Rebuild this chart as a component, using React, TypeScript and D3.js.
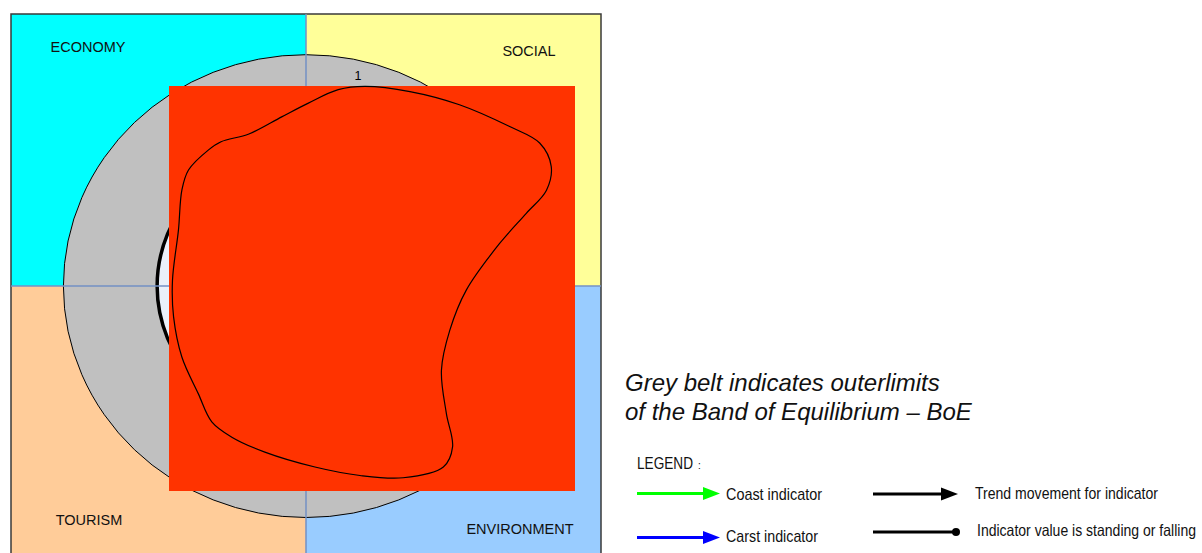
import React, { useEffect, useRef } from 'react';
import * as d3 from 'd3';

// quadrants, clockwise from top-left
const sectors = ['ECONOMY', 'SOCIAL', 'ENVIRONMENT', 'TOURISM'];
const sectorColors = ['#00FFFF', '#FFFF99', '#99CCFF', '#FFCC99'];

// band of equilibrium, in radial units
const beltOuter = 1.1;
const beltInner = 0.675;
const radialTicks = [1];

// indicator profile: angle (deg, clockwise from north) and radial value
const profileAngles = [
  -29.3, -19.7, -7.8, 0.7, 8.9, 15.7, 27.0, 38.9, 50.6, 57.3, 62.9, 67.3,
  70.9, 77.0, 91.5, 107.8, 123.1, 133.6, 139.0, 144.1, 154.2, 164.8, 177.3,
  193.3, 205.1, 213.5, 223.7, 239.1, 256.3, 272.7, 294.8, 309.1, 316.0, 325.7,
];
const profileValues = [
  0.787, 0.768, 0.812, 0.87, 0.945, 0.986, 1.038, 1.108, 1.195, 1.259, 1.249,
  1.182, 1.057, 0.901, 0.727, 0.685, 0.733, 0.879, 1.013, 1.062, 1.012, 0.933,
  0.861, 0.811, 0.793, 0.774, 0.707, 0.656, 0.618, 0.606, 0.637, 0.725, 0.767,
  0.784,
];

const noteLines = [
  'Grey belt indicates outerlimits',
  'of the Band of Equilibrium \u2013 BoE',
];

const legendItems = [
  { label: 'Coast indicator', color: '#00FF00', end: 'arrow' },
  { label: 'Trend movement for indicator', color: '#000000', end: 'arrow' },
  { label: 'Carst indicator', color: '#0000FF', end: 'arrow' },
  { label: 'Indicator value is standing or falling', color: '#000000', end: 'dot' },
];

const sans = '"Liberation Sans", Arial, sans-serif';
const narrow = '"Liberation Sans Narrow", "Arial Narrow", "Liberation Sans", sans-serif';

export default function App() {
  const ref = useRef<SVGSVGElement>(null);

  useEffect(() => {
    const width = 1202;
    const height = 553;
    const svg = d3.select(ref.current);
    svg.selectAll('*').remove();
    svg.attr('width', width).attr('height', height);

    // frame of the diagram
    const frame = { left: 11, top: 14, right: 601, bottom: 600 };

    const x = d3.scaleLinear().domain([-beltOuter, beltOuter]).range([63.4, 548.6]);
    const y = d3.scaleLinear().domain([-beltOuter, beltOuter]).range([517.5, 54.7]);
    const cx = x(0);
    const cy = y(0);

    // quadrant backgrounds
    const quads = [
      [frame.left, frame.top, cx, cy],
      [cx, frame.top, frame.right, cy],
      [cx, cy, frame.right, frame.bottom],
      [frame.left, cy, cx, frame.bottom],
    ];
    svg.append('g')
      .selectAll('rect')
      .data(quads)
      .enter()
      .append('rect')
      .attr('x', d => d[0])
      .attr('y', d => d[1])
      .attr('width', d => d[2] - d[0])
      .attr('height', d => d[3] - d[1])
      .attr('fill', (d, i) => sectorColors[i]);

    svg.append('rect')
      .attr('x', frame.left)
      .attr('y', frame.top)
      .attr('width', frame.right - frame.left)
      .attr('height', frame.bottom - frame.top)
      .attr('fill', 'none')
      .attr('stroke', '#3a3a3a')
      .attr('stroke-width', 1.5);

    // grey belt and inner limit
    svg.append('ellipse')
      .attr('cx', cx).attr('cy', cy)
      .attr('rx', x(beltOuter) - cx)
      .attr('ry', cy - y(beltOuter))
      .attr('fill', '#C0C0C0')
      .attr('stroke', '#000')
      .attr('stroke-width', 1);

    svg.append('ellipse')
      .attr('cx', cx).attr('cy', cy)
      .attr('rx', x(beltInner) - cx)
      .attr('ry', cy - y(beltInner))
      .attr('fill', '#EAF0FA')
      .attr('stroke', '#000')
      .attr('stroke-width', 3.5);

    // axes / quadrant dividers
    svg.append('line')
      .attr('x1', cx).attr('x2', cx)
      .attr('y1', frame.top).attr('y2', frame.bottom)
      .attr('stroke', '#7391C4').attr('stroke-width', 1.5);
    svg.append('line')
      .attr('x1', frame.left).attr('x2', frame.right)
      .attr('y1', cy).attr('y2', cy)
      .attr('stroke', '#7391C4').attr('stroke-width', 1.5);

    svg.selectAll('text.tick')
      .data(radialTicks)
      .enter()
      .append('text')
      .attr('class', 'tick')
      .attr('x', cx + 52)
      .attr('y', d => y(d) + 4.5)
      .attr('text-anchor', 'middle')
      .attr('font-family', sans)
      .attr('font-size', 12.5)
      .text(d => d);

    // sector labels
    const labelPos = [
      [88, 52], [529, 56], [520, 534], [89, 525],
    ];
    svg.selectAll('text.sector')
      .data(sectors)
      .enter()
      .append('text')
      .attr('class', 'sector')
      .attr('x', (d, i) => labelPos[i][0])
      .attr('y', (d, i) => labelPos[i][1])
      .attr('text-anchor', 'middle')
      .attr('font-family', sans)
      .attr('font-size', 14.5)
      .attr('fill', '#111')
      .text(d => d);

    // plot area
    svg.append('rect')
      .attr('x', 169).attr('y', 86)
      .attr('width', 406).attr('height', 405)
      .attr('fill', '#FF3300');

    const pts = profileAngles.map((a, i) => [a * Math.PI / 180, profileValues[i]] as [number, number]);
    const line = d3.line<[number, number]>()
      .x(d => x(d[1] * Math.sin(d[0])))
      .y(d => y(d[1] * Math.cos(d[0])))
      .curve(d3.curveCatmullRomClosed.alpha(0.5));
    svg.append('path')
      .attr('d', line(pts))
      .attr('fill', 'none')
      .attr('stroke', '#000')
      .attr('stroke-width', 1.2);

    // note
    svg.selectAll('text.note')
      .data(noteLines)
      .enter()
      .append('text')
      .attr('class', 'note')
      .attr('x', 625)
      .attr('y', (d, i) => 391 + i * 29)
      .attr('font-family', sans)
      .attr('font-style', 'italic')
      .attr('font-size', 24)
      .attr('fill', '#111')
      .text(d => d);

    // legend
    const lg = svg.append('g');
    lg.append('text')
      .attr('x', 637).attr('y', 469)
      .attr('font-family', narrow)
      .attr('font-size', 16.5)
      .attr('fill', '#111')
      .attr('textLength', 56)
      .attr('lengthAdjust', 'spacingAndGlyphs')
      .text('LEGEND');
    lg.append('text')
      .attr('x', 698).attr('y', 469)
      .attr('font-family', narrow)
      .attr('font-size', 10)
      .attr('fill', '#111')
      .text(':');

    const slots = [
      { x0: 637, x1: 720, y: 493.5, tx: 726, ty: 500, tl: 96 },
      { x0: 873, x1: 958, y: 494, tx: 975, ty: 498.5, tl: 183 },
      { x0: 637, x1: 720, y: 537.5, tx: 726, ty: 542, tl: 92 },
      { x0: 873, x1: 960, y: 532, tx: 977, ty: 536, tl: 219 },
    ];
    legendItems.forEach((item, i) => {
      const s = slots[i];
      const g = lg.append('g');
      if (item.end === 'arrow') {
        g.append('line')
          .attr('x1', s.x0).attr('x2', s.x1 - 14)
          .attr('y1', s.y).attr('y2', s.y)
          .attr('stroke', item.color).attr('stroke-width', 3);
        g.append('path')
          .attr('d', `M${s.x1},${s.y}L${s.x1 - 17},${s.y - 6.5}L${s.x1 - 17},${s.y + 6.5}Z`)
          .attr('fill', item.color);
      } else {
        g.append('line')
          .attr('x1', s.x0).attr('x2', s.x1 - 4)
          .attr('y1', s.y).attr('y2', s.y)
          .attr('stroke', item.color).attr('stroke-width', 3);
        g.append('circle')
          .attr('cx', s.x1 - 4).attr('cy', s.y).attr('r', 4)
          .attr('fill', item.color);
      }
      g.append('text')
        .attr('x', s.tx).attr('y', s.ty)
        .attr('font-family', narrow)
        .attr('font-size', i === 3 ? 16.5 : 17)
        .attr('fill', '#111')
        .attr('textLength', s.tl)
        .attr('lengthAdjust', 'spacingAndGlyphs')
        .text(item.label);
    });
  }, []);

  return (
    <div>
      <svg ref={ref} style={{ position: 'absolute', left: 0, top: 0 }} />
    </div>
  );
}
